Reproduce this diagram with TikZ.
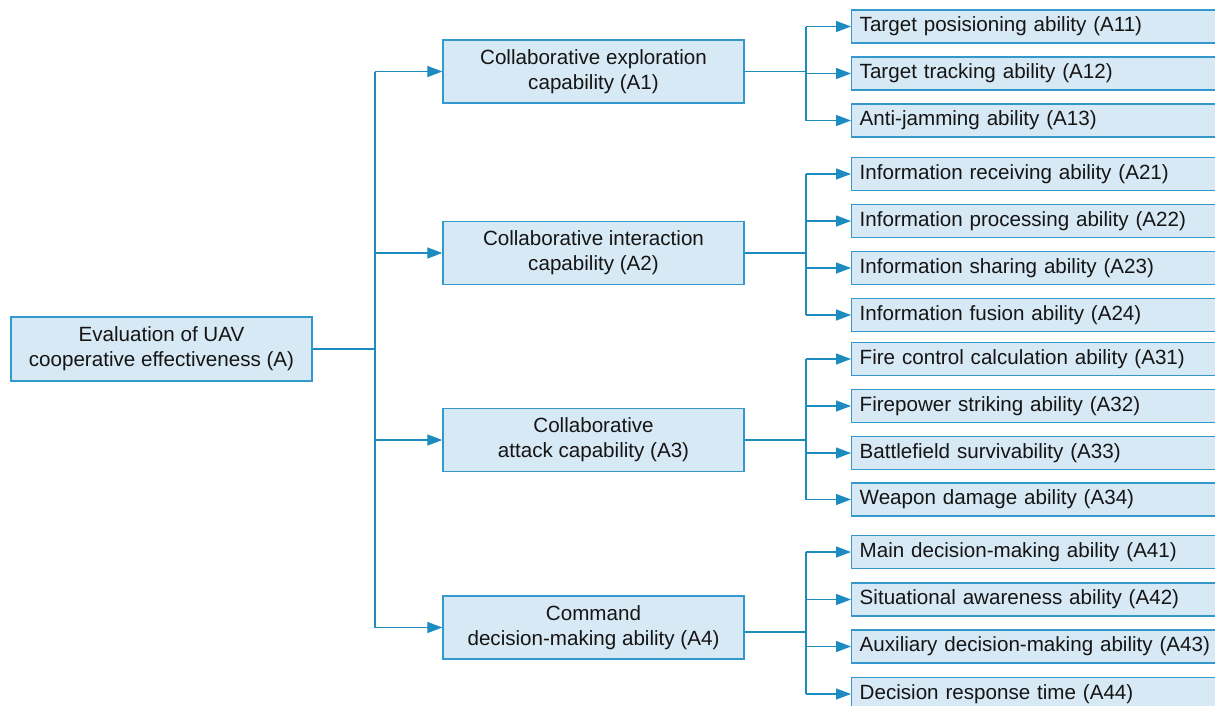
\documentclass[tikz,border=0pt]{standalone}
\usepackage{fontspec}
\setmainfont{Liberation Sans}
\usetikzlibrary{arrows.meta,calc}
\definecolor{boxfill}{HTML}{D7E9F5}
\definecolor{boxline}{HTML}{3399CC}
\definecolor{conn}{HTML}{1B8BC0}
\definecolor{txt}{HTML}{151515}
\begin{document}
\begin{tikzpicture}[x=1pt,y=-1pt,
  box/.style={draw=boxline,fill=boxfill,line width=1.4pt,text=txt,font=\fontsize{20.6}{25}\selectfont,inner sep=0pt},
  rootbox/.style={box,minimum width=301pt,minimum height=64pt,align=center},
  midbox/.style={box,minimum width=301pt,minimum height=63pt,align=center},
  leafbox/.style={box,anchor=west,minimum height=33pt,text width=380pt,inner xsep=8pt,align=left},
  conline/.style={draw=conn,line width=1.3pt},
  arr/.style={conline,-{Triangle[length=15pt,width=11pt]}}]
\useasboundingbox (0,0) rectangle (1215,705);
\clip (0,0) rectangle (1215,705);
\fill[white] (0,0) rectangle (1215,705);

\node[rootbox] (A) at (161.5,349) {Evaluation of UAV\\cooperative effectiveness (A)};

\node[midbox] (A1) at (593.5,71.5) {Collaborative exploration\\capability (A1)};
\node[midbox] (A2) at (593.5,253) {Collaborative interaction\\capability (A2)};
\node[midbox] (A3) at (593.5,440) {Collaborative\\attack capability (A3)};
\node[midbox] (A4) at (593.5,627.5) {Command\\decision-making ability (A4)};

\node[leafbox] (A11) at (851,26.5) {Target posisioning ability (A11)};
\node[leafbox] (A12) at (851,73.5) {Target tracking ability (A12)};
\node[leafbox] (A13) at (851,120.5) {Anti-jamming ability (A13)};
\node[leafbox] (A21) at (851,174) {Information receiving ability (A21)};
\node[leafbox] (A22) at (851,221) {Information processing ability (A22)};
\node[leafbox] (A23) at (851,268) {Information sharing ability (A23)};
\node[leafbox] (A24) at (851,315) {Information fusion ability (A24)};
\node[leafbox] (A31) at (851,359) {Fire control calculation ability (A31)};
\node[leafbox] (A32) at (851,406) {Firepower striking ability (A32)};
\node[leafbox] (A33) at (851,453) {Battlefield survivability (A33)};
\node[leafbox] (A34) at (851,499.5) {Weapon damage ability (A34)};
\node[leafbox] (A41) at (851,552) {Main decision-making ability (A41)};
\node[leafbox] (A42) at (851,599.5) {Situational awareness ability (A42)};
\node[leafbox] (A43) at (851,646.5) {Auxiliary decision-making ability (A43)};
\node[leafbox] (A44) at (851,694) {Decision response time (A44)};

% root bus
\coordinate (bus) at (375,349);
\draw[conline] (A.east) -- (bus);
\draw[conline] (bus |- A1.west) -- (bus |- A4.west);
\foreach \m in {A1,A2,A3,A4}
  \draw[arr] (bus |- \m.west) -- (\m.west);

% second-level buses
\coordinate (sb) at (806,0);
\foreach \m/\o/\f/\l/\list in {A1/0/A11/A13/{A11,A12,A13},A2/0/A21/A24/{A21,A22,A23,A24},A3/0/A31/A34/{A31,A32,A33,A34},A4/4.5/A41/A44/{A41,A42,A43,A44}}{
  \coordinate (\m out) at ($(\m.east)+(0,\o)$);
  \draw[conline] (\m out) -- (sb |- \m out);
  \draw[conline] (sb |- \f.west) -- (sb |- \l.west);
  \foreach \c in \list
    \draw[arr] (sb |- \c.west) -- (\c.west);
}
\end{tikzpicture}
\end{document}
